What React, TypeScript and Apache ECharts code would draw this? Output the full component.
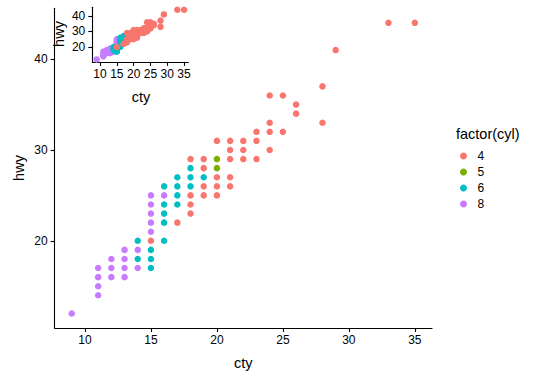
import { useEffect, useRef } from "react";
import * as echarts from "echarts";

// [cty, hwy] points (unique visible positions) by number of cylinders
const cyl4: [number, number][] = [
  [15, 20], [17, 22], [18, 29], [18, 25], [18, 24], [18, 23],
  [19, 29], [19, 28], [19, 26], [19, 25],
  [20, 31], [20, 27], [20, 26], [20, 25],
  [21, 31], [21, 30], [21, 29], [21, 27], [21, 26],
  [22, 31], [22, 30], [22, 29],
  [23, 32], [23, 31], [23, 29],
  [24, 36], [24, 33], [24, 32], [24, 30],
  [25, 36], [25, 32], [26, 35], [26, 34],
  [28, 37], [28, 33], [29, 41], [33, 44], [35, 44],
];
const cyl5: [number, number][] = [[20, 29], [20, 28]];
const cyl6: [number, number][] = [
  [14, 20], [14, 18], [15, 19], [15, 18], [15, 17],
  [16, 26], [16, 24], [16, 23], [16, 22], [16, 20],
  [17, 27], [17, 26], [17, 25], [17, 24],
  [18, 28], [18, 27], [18, 26], [19, 27],
];
const cyl8: [number, number][] = [
  [9, 12], [11, 17], [11, 16], [11, 15], [11, 14],
  [12, 18], [12, 17], [12, 16],
  [13, 19], [13, 18], [13, 17], [13, 16],
  [14, 19], [14, 17],
  [15, 25], [15, 24], [15, 23], [15, 22], [15, 21], [16, 25],
];

const cylLabels = ["4", "5", "6", "8"];
const xTicks = [10, 15, 20, 25, 30, 35];
const yTicks = [20, 30, 40];

const COLORS: Record<string, string> = {
  "4": "#F8766D",
  "5": "#7CAE00",
  "6": "#00BFC4",
  "8": "#C77CFF",
};
const FONT = "Liberation Sans, Arial, sans-serif";

export default function App() {
  const ref = useRef<HTMLDivElement>(null);

  useEffect(() => {
    const chart = echarts.init(ref.current!, null, { renderer: "svg" });

    const mkX = (gridIndex: number) => ({
      type: "value",
      gridIndex,
      min: 7.7,
      max: 36.3,
      axisLine: { show: true, onZero: false, lineStyle: { color: "#000", width: 1.1 } },
      axisTick: { show: true, length: 4, customValues: xTicks, lineStyle: { color: "#000", width: 1.1 } },
      axisLabel: { customValues: xTicks, margin: 6, color: "#000", fontSize: 12, fontFamily: FONT },
      splitLine: { show: false },
    });
    const mkY = (gridIndex: number) => ({
      type: "value",
      gridIndex,
      min: 10.4,
      max: 45.6,
      axisLine: { show: true, onZero: false, lineStyle: { color: "#000", width: 1.1 } },
      axisTick: { show: true, length: 4, customValues: yTicks, lineStyle: { color: "#000", width: 1.1 } },
      axisLabel: { customValues: yTicks, margin: 7, color: "#000", fontSize: 12, fontFamily: FONT },
      splitLine: { show: false },
    });

    const groups: Record<string, [number, number][]> = { "4": cyl4, "5": cyl5, "6": cyl6, "8": cyl8 };
    const drawOrder = ["8", "6", "5", "4"];
    const series: any[] = [];
    [0, 1].forEach((g) => {
      drawOrder.forEach((k) => {
        series.push({
          type: "scatter",
          name: k,
          xAxisIndex: g,
          yAxisIndex: g,
          data: groups[k],
          symbolSize: 6.5,
          itemStyle: { color: COLORS[k], opacity: 1 },
          z: g === 0 ? 2 : 4,
          silent: true,
        });
      });
    });

    chart.setOption({
      animation: false,
      backgroundColor: "#fff",
      textStyle: { fontFamily: FONT },
      grid: [
        { left: 54.6, top: 8.3, width: 377.4, height: 319.7 },
        { left: 92.3, top: 7.3, width: 96.1, height: 54.6, z: 4 },
      ],
      xAxis: [mkX(0), { ...mkX(1), z: 4 }],
      yAxis: [mkY(0), { ...mkY(1), z: 4 }],
      legend: {
        data: cylLabels,
        orient: "vertical",
        left: 455,
        top: 145,
        itemWidth: 18,
        itemHeight: 7,
        itemGap: 4,
        icon: "circle",
        selectedMode: false,
        textStyle: { fontSize: 12, color: "#000", fontFamily: FONT },
      },
      graphic: [
        { type: "text", x: 243.3, y: 363, style: { text: "cty", font: `14.5px ${FONT}`, fill: "#000", align: "center", verticalAlign: "middle" } },
        { type: "text", x: 19, y: 168, rotation: Math.PI / 2, style: { text: "hwy", font: `14.5px ${FONT}`, fill: "#000", align: "center", verticalAlign: "middle" } },
        { type: "text", x: 141, y: 97, z: 10, style: { text: "cty", font: `14.5px ${FONT}`, fill: "#000", align: "center", verticalAlign: "middle" } },
        { type: "text", x: 59, y: 34, z: 10, rotation: Math.PI / 2, style: { text: "hwy", font: `14.5px ${FONT}`, fill: "#000", align: "center", verticalAlign: "middle" } },
        { type: "text", x: 456, y: 134, style: { text: "factor(cyl)", font: `14.5px ${FONT}`, fill: "#000", align: "left", verticalAlign: "middle" } },
      ],
      series,
    });

    return () => chart.dispose();
  }, []);

  return <div ref={ref} style={{ position: "fixed", left: 0, top: 0, width: 540, height: 381 }} />;
}
